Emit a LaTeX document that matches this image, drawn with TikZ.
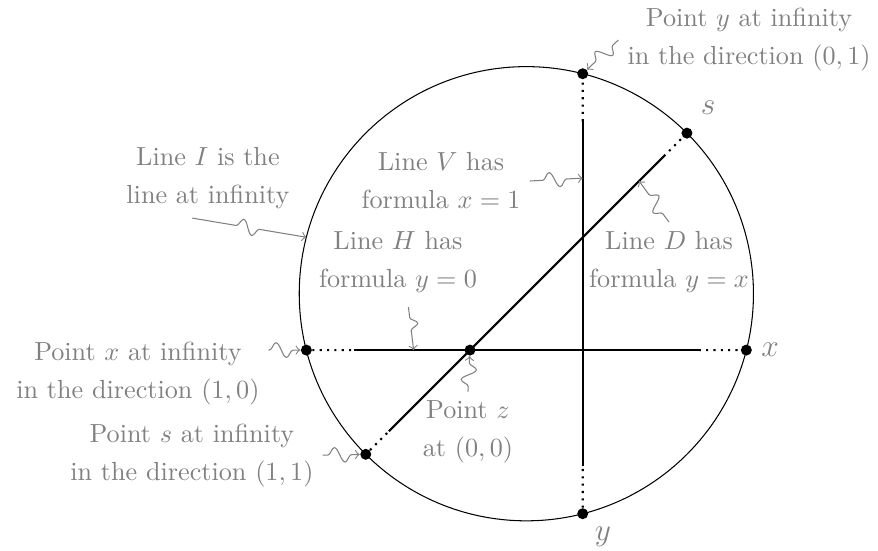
\documentclass[tikz,border=0pt]{standalone}
\usetikzlibrary{calc,decorations.pathmorphing}

\begin{document}
\begin{tikzpicture}[
  x=1.513cm, y=1.513cm,
  lbl/.style={text=gray, align=center, font=\fontsize{10}{14.5}\selectfont},
  letter/.style={text=gray, font=\large},
  dot/.style={circle, fill=black, inner sep=0pt, minimum size=4.2pt},
  line/.style={thick},
  dots/.style={thick, dotted},
  squig/.style 2 args={->, gray, decorate, decoration={snake, amplitude=2.8pt, segment length=8pt, pre length=#1, post length=#2}}
]
\useasboundingbox (-4.170,-1.775) rectangle (3.620,3.106);

% the line at infinity
\coordinate (o) at (0.5,0.5);
\draw (o) circle (2.015);

% points at infinity and the origin
\node[dot] (xr) at ($(o)+(-14.37:2.015)$) {};
\node[dot] (xl) at ($(o)+(194.37:2.015)$) {};
\node[dot] (yt) at ($(o)+(75.63:2.015)$) {};
\node[dot] (yb) at ($(o)+(-75.63:2.015)$) {};
\node[dot] (sr) at ($(o)+(45:2.015)$) {};
\node[dot] (sl) at ($(o)+(225:2.015)$) {};
\node[dot] (z) at (0,0) {};

% ends of the finite parts
\coordinate (hl) at (-1.03,0);
\coordinate (hr) at (2.03,0);
\coordinate (vb) at (1,-1.03);
\coordinate (vt) at (1,2.03);
\coordinate (dl) at (-0.72,-0.72);
\coordinate (dr) at (1.72,1.72);

\draw[line] (hl) -- (hr);
\draw[line] (vb) -- (vt);
\draw[line] (dl) -- (dr);
\draw[dots] (xl) -- (hl);
\draw[dots] (hr) -- (xr);
\draw[dots] (yb) -- (vb);
\draw[dots] (vt) -- (yt);
\draw[dots] (sl) -- (dl);
\draw[dots] (dr) -- (sr);

% letters
\node[letter] (nx) at (2.662,0) {$x$};
\node[letter] (ny) at (1.180,-1.659) {$y$};
\node[letter] (ns) at (2.112,2.147) {$s$};

% labels
\node[lbl] (ly) at (2.476,2.751) {Point $y$ at infinity\\in the direction $(0,1)$};
\node[lbl] (lI) at (-2.325,1.526) {Line $I$ is the\\line at infinity};
\node[lbl] (lV) at (-0.257,1.500) {Line $V$ has\\formula $x=1$};
\node[lbl] (lH) at (-0.639,0.781) {Line $H$ has\\formula $y=0$};
\node[lbl] (lD) at (1.766,0.781) {Line $D$ has\\formula $y=x$};
\node[lbl] (lx) at (-2.946,-0.204) {Point $x$ at infinity\\in the direction $(1,0)$};
\node[lbl] (lz) at (-0.018,-0.728) {Point $z$\\at $(0,0)$};
\node[lbl] (ls) at (-2.467,-0.932) {Point $s$ at infinity\\in the direction $(1,1)$};

% targets on the lines
\coordinate (ip) at ($(o)+(165.6:2.015)$);
\coordinate (vp) at (1,1.526);
\coordinate (hp) at (-0.5,0);
\coordinate (dp) at (1.5,1.5);

\draw[squig={3pt}{3.5pt}] (ly.west) -- (yt);
\draw[squig={17pt}{16.3pt}] ([xshift=-6pt]lI.south) -- (ip);
\draw[squig={5pt}{4.4pt}] (lV.east) -- (vp);
\draw[squig={4pt}{3.8pt}] ([xshift=4pt,yshift=-2pt]lH.south) -- (hp);
\draw[squig={4pt}{4.1pt}] (lD.north) -- (dp);
\draw[squig={0.3pt}{1pt}] (lx.10) -- (xl);
\draw[squig={2pt}{2.2pt}] (lz.north) -- (z);
\draw[squig={2pt}{2.2pt}] (ls.east) -- (sl);
\end{tikzpicture}
\end{document}
